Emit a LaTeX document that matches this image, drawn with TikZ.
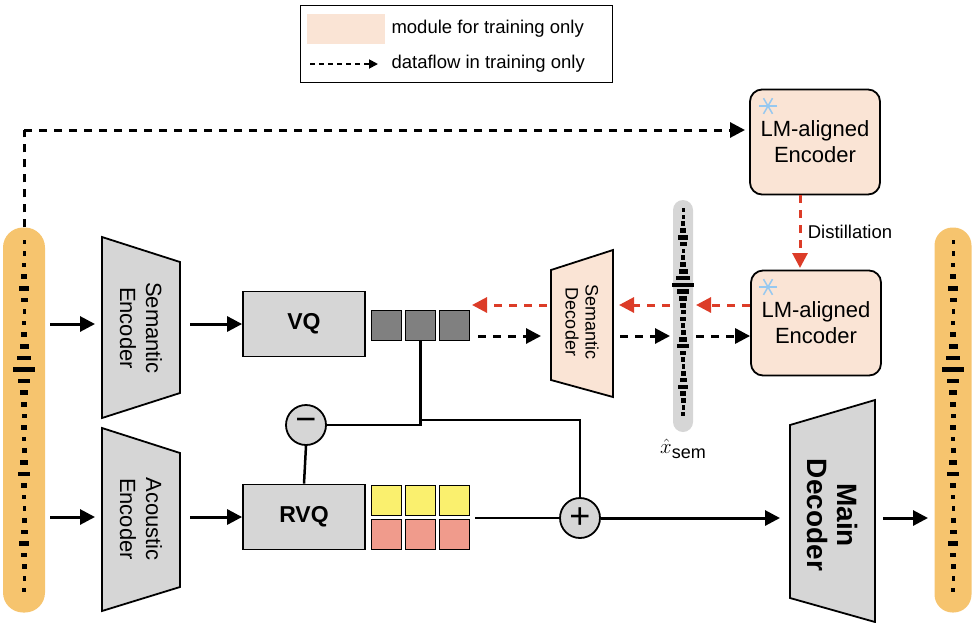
\documentclass[tikz,border=0pt]{standalone}
\usepackage{fontspec}
\setmainfont{Liberation Sans}
\usetikzlibrary{arrows.meta,positioning}
\definecolor{peach}{RGB}{250,228,213}
\definecolor{wave}{RGB}{246,196,110}
\definecolor{boxgray}{RGB}{214,214,214}
\definecolor{sqgray}{RGB}{128,128,128}
\definecolor{sqyellow}{RGB}{250,240,110}
\definecolor{sqred}{RGB}{240,155,140}
\definecolor{distred}{RGB}{220,60,40}
\definecolor{snow}{RGB}{150,200,240}
\tikzset{
  txt/.style={font=\fontsize{22}{26}\selectfont,align=center},
  block/.style={draw,line width=1.8pt,fill=boxgray,minimum width=122pt,minimum height=65pt,txt,font=\fontsize{23}{26}\selectfont\bfseries},
  lmbox/.style={draw,line width=1.8pt,fill=peach,rounded corners=12pt,minimum width=130pt,minimum height=105pt,txt},
  sq/.style={draw,line width=1pt,minimum size=30pt,inner sep=0pt},
  flow/.style={line width=3pt,-{Triangle[length=15pt,width=15pt]}},
  train/.style={flow,dash pattern=on 8pt off 7pt},
  distil/.style={train,distred},
  junc/.style={draw,line width=1.8pt,fill=boxgray,circle,minimum size=40pt,inner sep=0pt,font=\fontsize{36}{36}\selectfont},
  trap/.style={draw,line width=1.8pt},
}
\newcommand{\wavebars}[3]{% x center, y top, step
  \foreach \w [count=\i] in {3,3,4,6,10,7,3,4,6,9,14,22,12,8,6,5,6,4,5,8,12,6,4,3,5,7,10,6,5,3,4}
    \fill (#1-\w/2,#2+\i*#3) rectangle (#1+\w/2,#2+\i*#3+4.5);
}
\newcommand{\snowflake}[2]{%
  \foreach \a in {0,60,120} \draw[snow,line width=1.5pt] (#1,#2) ++(\a:9pt) -- ++(\a+180:18pt);
}
\begin{document}
\begin{tikzpicture}[x=1pt,y=-1pt]
\useasboundingbox (0,0) rectangle (974,622);
% legend
\draw[line width=0.8pt] (300,5) rectangle (612,82);
\fill[peach] (307,14) rectangle (385,44);
\node[txt,anchor=west,font=\fontsize{18.5}{21}\selectfont] (legA) at (388,29) {module for training only};
\coordinate (legS) at (310,64);
\coordinate (legE) at (378,64);
\draw[flow,line width=1.8pt,dash pattern=on 5pt off 4pt,-{Triangle[length=9pt,width=9pt]}] (legS) -- (legE);
\node[txt,anchor=west,font=\fontsize{18.5}{21}\selectfont] (legB) at (388,64) {dataflow in training only};
% waveforms
\node[fill=wave,rounded corners=20pt,minimum width=42pt,minimum height=385pt] (wavein) at (24,420) {};
\wavebars{24}{228}{11.6}
\node[fill=wave,rounded corners=18pt,minimum width=37pt,minimum height=385pt] (waveout) at (953,420) {};
\wavebars{953}{228}{11.6}
\node[fill=boxgray,rounded corners=10pt,minimum width=20pt,minimum height=232pt] (xsem) at (683,316) {};
\wavebars{683}{201}{6.8}
\node[txt,font=\fontsize{22}{24}\selectfont,inner sep=1pt] (xlab) at (683,449) {\(\hat{x}\)\raisebox{-5pt}{\fontsize{18}{20}\selectfont sem}};
% encoders and decoders
\draw[trap,fill=boxgray] (102,237) -- (180,262) -- (180,393) -- (102,418) -- cycle;
\node[txt,rotate=-90,minimum width=181pt,minimum height=78pt] (senc) at (141,328) {Semantic\\Encoder};
\draw[trap,fill=boxgray] (102,428) -- (180,453) -- (180,587) -- (102,611) -- cycle;
\node[txt,rotate=-90,minimum width=183pt,minimum height=78pt] (aenc) at (141,519) {Acoustic\\Encoder};
\draw[trap,fill=peach] (551,270) -- (613,250) -- (613,397) -- (551,380) -- cycle;
\node[txt,rotate=-90,minimum width=110pt,minimum height=62pt,font=\fontsize{18}{20}\selectfont] (sdec) at (582,322) {Semantic\\Decoder};
\draw[trap,fill=boxgray] (790,425) -- (875,400) -- (875,622) -- (790,598) -- cycle;
\node[txt,rotate=-90,minimum width=175pt,minimum height=85pt,font=\fontsize{28}{30}\selectfont\bfseries] (mdec) at (832,515) {Main\\Decoder};
% quantizers
\node[block] (vq) at (304,324) {VQ};
\node[block] (rvq) at (304,517) {RVQ};
\node[sq,fill=sqgray,right=5pt of vq.east,yshift=-1pt] (g1) {};
\node[sq,fill=sqgray,right=3pt of g1] (g2) {};
\node[sq,fill=sqgray,right=3pt of g2] (g3) {};
\node[sq,fill=sqyellow,right=5pt of rvq.east,yshift=17pt] (y1) {};
\node[sq,fill=sqyellow,right=3pt of y1] (y2) {};
\node[sq,fill=sqyellow,right=3pt of y2] (y3) {};
\node[sq,fill=sqred,below=3pt of y1] (r1) {};
\node[sq,fill=sqred,below=3pt of y2] (r2) {};
\node[sq,fill=sqred,below=3pt of y3] (r3) {};
% LM-aligned encoders
\node[lmbox] (lmtop) at (815,142) {LM-aligned\\Encoder};
\node[lmbox] (lmbot) at (816,323) {LM-aligned\\Encoder};
\snowflake{768}{106}
\snowflake{768}{287}
% junctions
\node[junc] (minus) at (306,425) {−};
\node[junc] (plus) at (580,518) {+};
% main flow
\draw[flow] (50,324) -- (95,324);
\draw[flow] (50,517) -- (95,517);
\draw[flow] (190,324) -- (vq.west);
\draw[flow] (190,517) -- (rvq.west);
\draw[line width=2.5pt] (g2.south) |- (minus.east);
\draw[line width=2.5pt] (420,420) -| (plus.north);
\draw[line width=2.5pt] (minus.south) -- (rvq.north);
\draw[line width=2.5pt] (plus.west -| 475,0) -- (plus.west);
\draw[flow] (plus.east) -- (780,518);
\draw[flow] (883,518) -- (928,518);
% training dataflow
\draw[train,-] (wavein.north) -- (24,130) coordinate (tp);
\draw[train] (tp) -- (745,130);
\draw[train] (478,336) -- (541,336);
\draw[train] (620,336) -- (670,336);
\draw[train] (696,336) -- (lmbot.west |- 0,336);
\draw[distil] (lmbot.west |- 0,305) -- (696,305);
\draw[distil] (670,305) -- (619,305);
\draw[distil] (547,305) -- (472,305);
\draw[distil] (lmtop.south -| 800,0) -- (800,268) node[midway,right=3pt,txt,black,font=\fontsize{18.5}{21}\selectfont] (dlab) {Distillation};
\end{tikzpicture}
\end{document}
